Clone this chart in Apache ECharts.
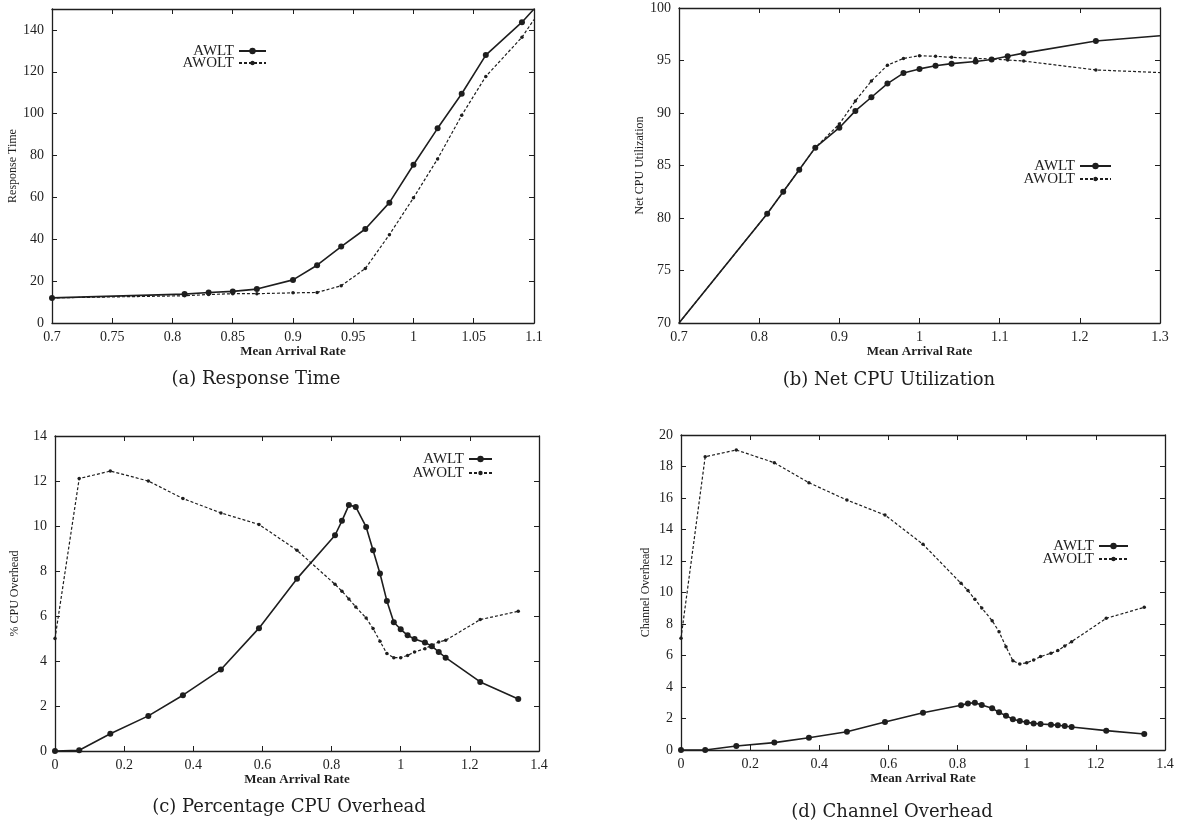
<!DOCTYPE html>
<html>
<head>
<meta charset="utf-8">
<script src="https://cdn.jsdelivr.net/npm/echarts@6/dist/echarts.min.js"></script>
<style>
  html, body { margin: 0; padding: 0; background: #fff; }
  #main { width: 1183px; height: 830px; }
</style>
</head>
<body>
<div id="main"></div>
<script>
// (a) Response Time
var rtX      = [0.7, 0.81, 0.83, 0.85, 0.87, 0.9, 0.92, 0.94, 0.96, 0.98, 1.0, 1.02, 1.04, 1.06, 1.09, 1.1];
var rtAwlt   = [12, 13.8, 14.6, 15.1, 16.2, 20.6, 27.6, 36.5, 44.9, 57.5, 75.6, 93, 109.5, 128, 143.7, 150];
var rtAwolt  = [12, 13, 13.6, 14, 14, 14.4, 14.6, 17.8, 26, 42.2, 59.8, 78.4, 99.2, 117.8, 136.5, 145];

// (b) Net CPU Utilization
var cpuX     = [0.7, 0.81, 0.83, 0.85, 0.87, 0.9, 0.92, 0.94, 0.96, 0.98, 1.0, 1.02, 1.04, 1.07, 1.09, 1.11, 1.13, 1.22, 1.3];
var cpuAwlt  = [70, 80.4, 82.5, 84.6, 86.7, 88.6, 90.2, 91.5, 92.8, 93.8, 94.2, 94.5, 94.7, 94.9, 95.1, 95.4, 95.7, 96.85, 97.35];
var cpuAwolt = [70, 80.4, 82.5, 84.6, 86.7, 88.95, 91.15, 93.05, 94.55, 95.2, 95.45, 95.4, 95.3, 95.2, 95.15, 95.05, 94.95, 94.1, 93.85];

// (c) Percentage CPU Overhead, (d) Channel Overhead
var ovX      = [0, 0.07, 0.16, 0.27, 0.37, 0.48, 0.59, 0.7, 0.81, 0.83, 0.85, 0.87, 0.9, 0.92, 0.94, 0.96, 0.98, 1.0, 1.02, 1.04, 1.07, 1.09, 1.11, 1.13, 1.23, 1.34];
var pctAwlt  = [0, 0.03, 0.77, 1.56, 2.48, 3.62, 5.46, 7.66, 9.59, 10.23, 10.93, 10.85, 9.96, 8.92, 7.89, 6.67, 5.72, 5.41, 5.14, 4.98, 4.82, 4.66, 4.4, 4.15, 3.07, 2.31];
var pctAwolt = [5.0, 12.11, 12.44, 12.0, 11.22, 10.58, 10.07, 8.92, 7.41, 7.1, 6.76, 6.4, 5.91, 5.44, 4.88, 4.33, 4.15, 4.15, 4.25, 4.4, 4.55, 4.7, 4.85, 4.92, 5.84, 6.21];
var chAwlt   = [0, 0, 0.25, 0.47, 0.78, 1.16, 1.78, 2.37, 2.84, 2.96, 3.0, 2.86, 2.65, 2.39, 2.18, 1.95, 1.84, 1.76, 1.69, 1.65, 1.61, 1.57, 1.52, 1.46, 1.23, 1.02];
var chAwolt  = [7.1, 18.62, 19.05, 18.24, 16.97, 15.87, 14.92, 13.06, 10.58, 10.12, 9.57, 9.02, 8.21, 7.51, 6.56, 5.67, 5.46, 5.54, 5.71, 5.93, 6.14, 6.31, 6.6, 6.88, 8.36, 9.06];

var ink = "#1e1e1e";
var serif = "'Liberation Serif', 'DejaVu Serif', serif";

let myChart = echarts.init(document.getElementById("main"));

function pairs(xs, ys) {
  return xs.map(function (x, i) { return [x, ys[i]]; });
}

// grids: [left, top, width, height]
var boxes = [
  [52, 9, 482, 314],
  [679, 8, 481, 315],
  [55, 436, 484, 315],
  [681, 435, 484, 315],
];

var xRanges = [[0.7, 1.1, 0.05], [0.7, 1.3, 0.1], [0, 1.4, 0.2], [0, 1.4, 0.2]];
var yRanges = [[0, 150, 20], [70, 100, 5], [0, 14, 2], [0, 20, 2]];
var yNames = ["Response Time", "Net CPU Utilization", "% CPU Overhead", "Channel Overhead"];
var yGaps = [31, 33, 34, 29];

var grid = [], xAxis = [], yAxis = [];
boxes.forEach(function (b, g) {
  grid.push({ left: b[0], top: b[1], width: b[2], height: b[3] });
  var xr = xRanges[g], yr = yRanges[g];
  var tick = { show: true, inside: true, length: 5, lineStyle: { color: ink, width: 1 } };
  var line = { show: true, onZero: false, lineStyle: { color: ink, width: 1.3 } };
  xAxis.push({
    type: "value", gridIndex: g, min: xr[0], max: xr[1], interval: xr[2],
    position: "bottom", axisLine: line, axisTick: tick, splitLine: { show: false },
    axisLabel: {
      color: ink, fontFamily: serif, fontSize: 14, margin: 7,
      formatter: function (v) { return String(Math.round(v * 100) / 100); },
    },
    name: "Mean Arrival Rate", nameLocation: "middle", nameGap: 22,
    nameTextStyle: { color: ink, fontFamily: serif, fontSize: 13, fontWeight: "bold" },
  });
  xAxis.push({
    type: "value", gridIndex: g, min: xr[0], max: xr[1], interval: xr[2],
    position: "top", axisLine: line, axisTick: tick, axisLabel: { show: false }, splitLine: { show: false },
  });
  yAxis.push({
    type: "value", gridIndex: g, min: yr[0], max: yr[1], interval: yr[2],
    position: "left", axisLine: line, axisTick: tick, splitLine: { show: false },
    axisLabel: {
      color: ink, fontFamily: serif, fontSize: 14, margin: 8,
      formatter: function (v) { return v % yr[2] === 0 || g === 1 ? String(v) : ""; },
    },
    name: yNames[g], nameLocation: "middle", nameGap: yGaps[g], nameRotate: 90,
    nameTextStyle: { color: ink, fontFamily: serif, fontSize: 12 },
  });
  yAxis.push({
    type: "value", gridIndex: g, min: yr[0], max: yr[1], interval: yr[2],
    position: "right", axisLine: line, axisTick: tick, axisLabel: { show: false }, splitLine: { show: false },
  });
});

// bare: x values drawn without a marker (line runs to the frame edge)
function mk(name, g, xs, ys, dashed, bare) {
  return {
    name: name, type: "line", xAxisIndex: g * 2, yAxisIndex: g * 2,
    data: pairs(xs, ys),
    symbol: "circle",
    symbolSize: function (v) {
      if (bare && bare.indexOf(v[0]) >= 0) return 0;
      return dashed ? 3.5 : 6;
    },
    showAllSymbol: true,
    itemStyle: { color: ink },
    lineStyle: { color: ink, width: dashed ? 1.2 : 1.6, type: dashed ? [3, 2] : "solid" },
    emphasis: { disabled: true },
    animation: false,
  };
}

var series = [
  mk("AWLT", 0, rtX, rtAwlt, false, [1.1]),
  mk("AWOLT", 0, rtX, rtAwolt, true, [1.1]),
  mk("AWLT", 1, cpuX, cpuAwlt, false, [0.7, 1.3]),
  mk("AWOLT", 1, cpuX, cpuAwolt, true, [0.7, 1.3]),
  mk("AWLT", 2, ovX, pctAwlt, false),
  mk("AWOLT", 2, ovX, pctAwolt, true),
  mk("AWLT", 3, ovX, chAwlt, false),
  mk("AWOLT", 3, ovX, chAwolt, true),
];

// legend keys per panel: [line end x, AWLT centre y, AWOLT centre y, line length]
var keys = [[267, 51, 63, 27], [1112, 166, 179, 31], [493, 459, 473, 23], [1129, 546, 559, 29]];
var legend = [];
keys.forEach(function (k) {
  [["AWLT", k[1], 8], ["AWOLT", k[2], 5.5]].forEach(function (e) {
    legend.push({
      data: [e[0]], orient: "vertical", align: "right",
      right: 1183 - k[0], top: e[1] - 8, itemWidth: k[3], itemHeight: e[2], padding: 0,
      selectedMode: false,
      textStyle: { color: ink, fontFamily: serif, fontSize: 15, lineHeight: 16 },
    });
  });
});

var captions = [
  ["(a) Response Time", 256, 379],
  ["(b) Net CPU Utilization", 889, 380],
  ["(c) Percentage CPU Overhead", 289, 807],
  ["(d) Channel Overhead", 892, 812],
];

myChart.setOption({
  backgroundColor: "#fff",
  animation: false,
  grid: grid,
  xAxis: xAxis,
  yAxis: yAxis,
  legend: legend,
  series: series,
  graphic: captions.map(function (c) {
    return {
      type: "text", x: c[1], y: c[2],
      style: {
        text: c[0], fill: ink, font: "18px 'DejaVu Serif', serif",
        textAlign: "center", textVerticalAlign: "middle",
      },
    };
  }),
});
window.addEventListener("resize", function () {
  myChart.resize();
});
</script>
</body>
</html>
